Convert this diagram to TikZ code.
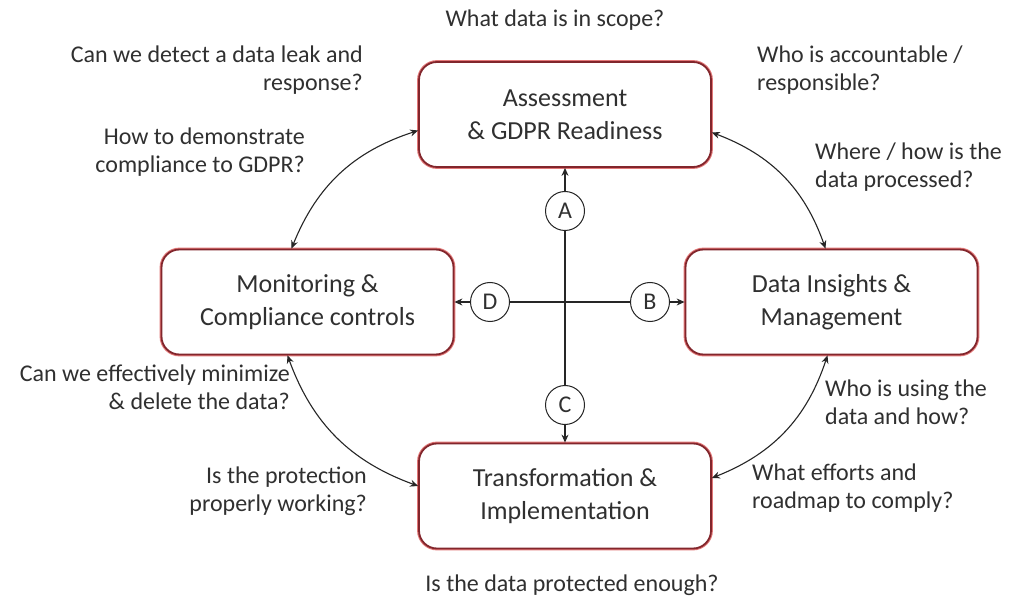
\documentclass[tikz,border=0pt]{standalone}
\usepackage{fontspec}
\setmainfont{Carlito}
\usetikzlibrary{calc,arrows.meta}
\definecolor{boxred}{RGB}{130,38,44}
\definecolor{halo}{RGB}{226,120,120}
\definecolor{txt}{RGB}{48,48,48}
\begin{document}
\begin{tikzpicture}[x=1pt,y=-1pt,
  box/.style={rectangle, rounded corners=18pt, minimum width=292pt, minimum height=105pt,
    draw=boxred, line width=1.8pt, preaction={draw=halo, line width=3.8pt},
    fill=white, align=center, font=\fontsize{26}{33}\selectfont, text=txt},
  circ/.style={circle, draw=black!85, line width=1pt, fill=white, minimum size=39pt,
    inner sep=0pt, font=\fontsize{24}{24}\selectfont, text=txt},
  q/.style={font=\fontsize{24}{28}\selectfont, text=txt, inner sep=0pt},
  ql/.style={q, align=left, anchor=base west},
  qr/.style={q, align=right, anchor=base east},
  ln/.style={draw=black!85, line width=1.1pt},
  arr/.style={ln, -{Stealth[length=8pt,width=7pt]}},
  darr/.style={ln, {Stealth[length=8pt,width=7pt]}-{Stealth[length=8pt,width=7pt]}}
]
\fill[white] (0,0) rectangle (1009,601);
\useasboundingbox (0,0) rectangle (1009,601);

% boxes
\node[box] (top) at (565,114.5) {Assessment\\\& GDPR Readiness};
\node[box] (left) at (307.5,302) {Monitoring \&\\Compliance controls};
\node[box] (right) at (831.5,302) {Data Insights \&\\Management};
\node[box] (bot) at (565,496) {Transformation \&\\Implementation};

% circles
\node[circ] (A) at (565,211) {A};
\node[circ] (D) at (490,302) {D};
\node[circ] (B) at (650,302) {B};
\node[circ] (C) at (565,405) {C};

% cross
\draw[ln] (A) -- (C);
\draw[ln] (D) -- (B);
\draw[arr] (A) -- (top);
\draw[arr] (C) -- (bot);
\draw[arr] (D) -- (left);
\draw[arr] (B) -- (right);

% cycle arrows
\draw[darr] ($(top.west)+(0,16)$) to[bend right=25] ($(left.north)+(-16,0)$);
\draw[darr] ($(top.east)+(0,18)$) to[bend left=25] ($(right.north)+(-6,0)$);
\draw[darr] ($(right.south)+(-4,0)$) to[bend left=25] ($(bot.east)+(0,-18)$);
\draw[darr] ($(left.south)+(-20,0)$) to[bend right=25] ($(bot.west)+(0,-10)$);

% questions
\node[q, anchor=base] (q1) at (555,27) {What data is in scope?};
\node[q, anchor=base] (q10) at (572,591) {Is the data protected enough?};
\node[qr] (q2) at (363,91) {Can we detect a data leak and\\response?};
\node[qr] (q3) at (305,173) {How to demonstrate\\compliance to GDPR?};
\node[qr] (q6) at (290,409) {Can we effectively minimize\\\& delete the data?};
\node[qr] (q7) at (367,511) {Is the protection\\properly working?};
\node[ql] (q4) at (757,91) {Who is accountable /\\responsible?};
\node[ql] (q5) at (815,188) {Where / how is the\\data processed?};
\node[ql] (q8) at (825,424) {Who is using the\\data and how?};
\node[ql] (q9) at (752,508) {What efforts and\\roadmap to comply?};
\end{tikzpicture}
\end{document}
